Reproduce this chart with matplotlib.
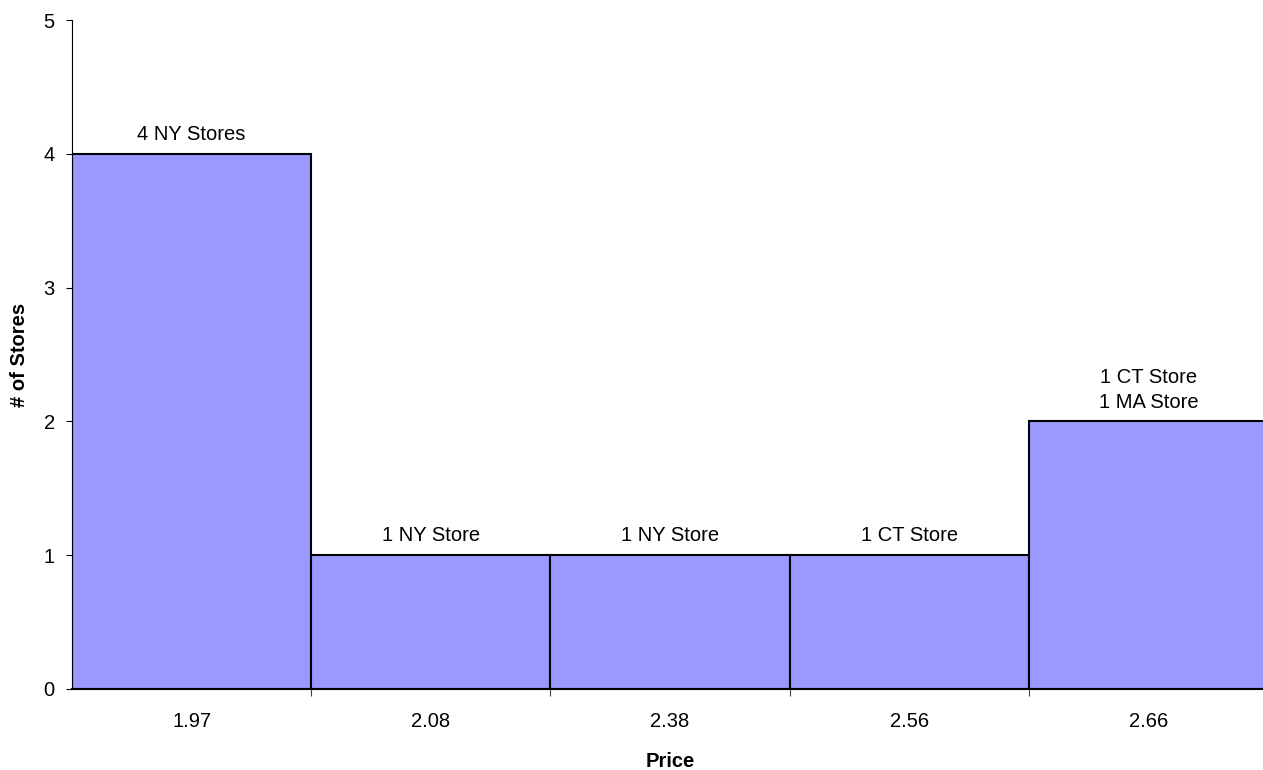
import matplotlib.pyplot as plt
import numpy as np

plt.rcParams["font.family"] = ["Liberation Sans", "DejaVu Sans"]

# price buckets and store counts
prices = ["1.97", "2.08", "2.38", "2.56", "2.66"]
counts = [4, 1, 1, 1, 2]
labels = ["4 NY Stores", "1 NY Store", "1 NY Store", "1 CT Store", "1 CT Store\n1 MA Store"]

FS = 14.5

fig = plt.figure(figsize=(12.63, 7.7), dpi=100)
# the last bar runs a little past the right edge of the image
ax = fig.add_axes([72 / 1263, 81 / 770, 1196 / 1263, 669 / 770])

x = np.arange(len(prices))
ax.bar(x, counts, width=1.0, color="#9999FF", edgecolor="black", linewidth=1.5, zorder=2)

for xi, c, lab in zip(x, counts, labels):
    ax.annotate(lab, (xi, c), xytext=(0, 7), textcoords="offset points",
                ha="center", va="bottom", fontsize=FS, linespacing=1.35)

ax.set_xlim(-0.5, len(prices) - 0.5)
ax.set_ylim(0, 5)
ax.set_yticks(range(6))

ax.set_xticks(x)
ax.set_xticklabels(prices)
ax.set_xticks(np.arange(0.5, len(prices) - 0.5, 1), minor=True)
ax.tick_params(axis="x", which="major", length=0, pad=16.5, labelsize=FS)
ax.tick_params(axis="x", which="minor", length=5, width=0.8, color="#444444")
ax.tick_params(axis="y", length=4.5, width=0.8, pad=8, labelsize=FS)

ax.set_xlabel("Price", fontweight="bold", fontsize=FS, labelpad=15)
ax.set_ylabel("# of Stores", fontweight="bold", fontsize=FS, labelpad=10)

for side in ("top", "right"):
    ax.spines[side].set_visible(False)
ax.spines["left"].set_linewidth(0.8)
ax.spines["bottom"].set_linewidth(1.5)

fig.savefig("out.png", dpi=100)
